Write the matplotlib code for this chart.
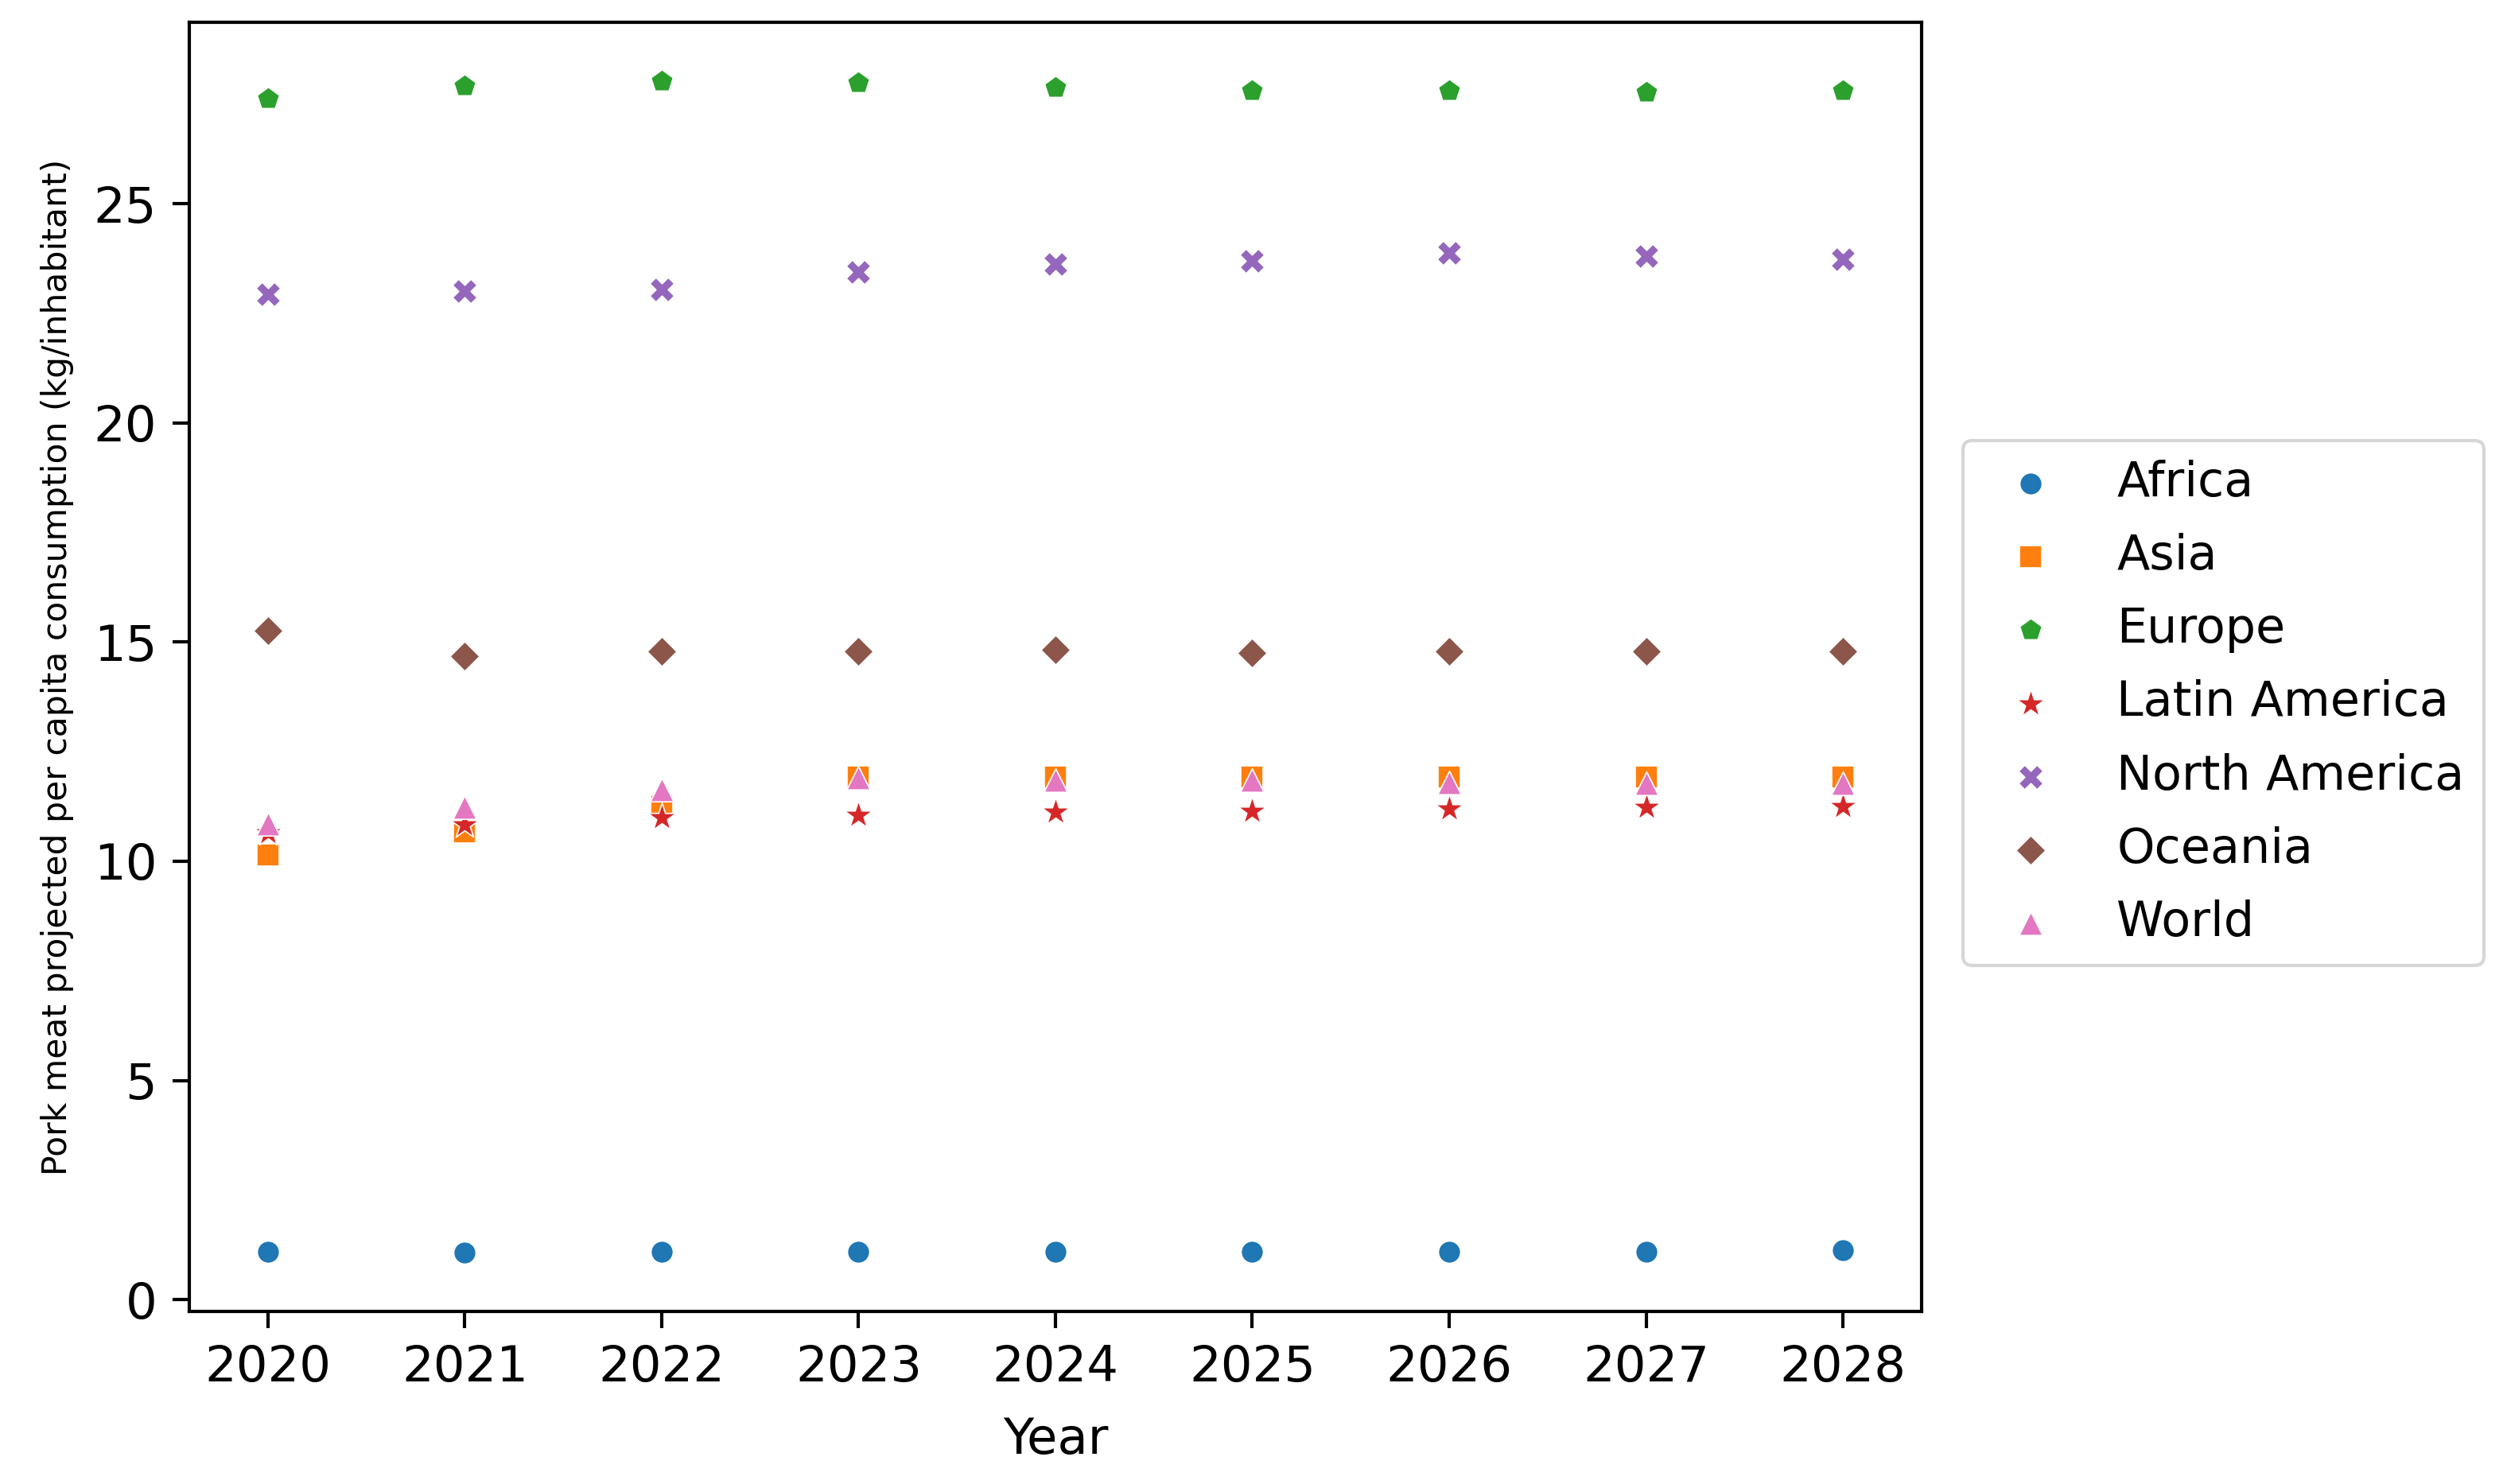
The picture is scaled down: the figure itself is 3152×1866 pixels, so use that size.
import matplotlib
matplotlib.use("Agg")
import matplotlib.pyplot as plt

years = [2020, 2021, 2022, 2023, 2024, 2025, 2026, 2027, 2028]
regions = ["Africa", "Asia", "Europe", "Latin America", "North America", "Oceania", "World"]

africa = [1.10, 1.07, 1.10, 1.10, 1.10, 1.10, 1.10, 1.10, 1.13]
asia = [10.14, 10.68, 11.26, 11.92, 11.92, 11.92, 11.92, 11.92, 11.92]
europe = [27.40, 27.69, 27.80, 27.76, 27.65, 27.58, 27.58, 27.54, 27.58]
latin_america = [10.65, 10.83, 11.00, 11.05, 11.12, 11.15, 11.19, 11.23, 11.26]
north_america = [22.93, 23.00, 23.04, 23.44, 23.62, 23.69, 23.87, 23.80, 23.73]
oceania = [15.26, 14.68, 14.79, 14.79, 14.83, 14.75, 14.79, 14.79, 14.79]
world = [10.86, 11.23, 11.63, 11.90, 11.85, 11.85, 11.80, 11.77, 11.77]

series = [africa, asia, europe, latin_america, north_america, oceania, world]
markers = ["o", "s", "p", "*", "X", "D", "^"]
colors = ["#1f77b4", "#ff7f0e", "#2ca02c", "#d62728", "#9467bd", "#8c564b", "#e377c2"]
sizes = [45, 45, 50, 80, 55, 40, 50]

fig = plt.figure(figsize=(3152 / 300, 1866 / 300), dpi=300)
ax = fig.add_axes([0.0755, 0.1163, 0.691, 0.8687])

for name, vals, m, c, s in zip(regions, series, markers, colors, sizes):
    ax.scatter(years, vals, marker=m, color=c, s=s, edgecolors="white", linewidths=0.4, label=name)

for sp in ax.spines.values():
    sp.set_linewidth(1.0)
ax.set_xticks(years)
ax.tick_params(labelsize=15, length=5, width=1.0, pad=4.8)
ax.set_xlabel("Year", fontsize=15, labelpad=7.5)
ax.set_ylabel("Pork meat projected per capita consumption (kg/inhabitant)",
              fontsize=10.2, family=["Liberation Sans Narrow", "DejaVu Sans"], labelpad=6)
ax.legend(loc="center left", bbox_to_anchor=(1.010, 0.472), fontsize=14.5, labelspacing=0.55)

fig.savefig("out.png", dpi=300)
